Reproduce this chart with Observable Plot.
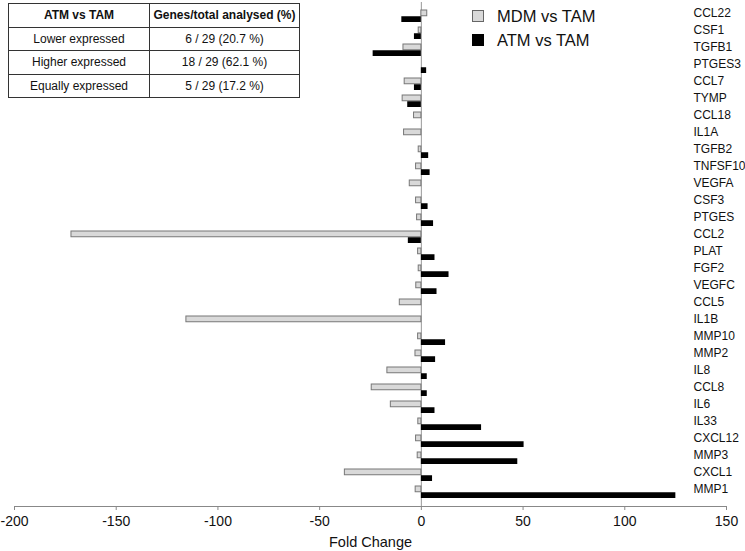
<!DOCTYPE html>
<html>
<head>
<meta charset="utf-8">
<script src="https://cdn.jsdelivr.net/npm/d3@7"></script>
<script src="https://cdn.jsdelivr.net/npm/@observablehq/plot@0.6"></script>
<style>
  body { margin: 0; background: #fff; font-family: "Liberation Sans", Arial, sans-serif; }
  #wrap { position: relative; width: 745px; height: 551px; overflow: hidden; }
  #tbl { position: absolute; left: 8px; top: 3px; border-collapse: collapse; font-size: 12px; color: #111; background: #fff; border: 1.5px solid #222; }
  #tbl td, #tbl th { border: 1px solid #333; height: 22.5px; padding: 0; text-align: center; }
  #tbl th { font-weight: bold; }
  #legend { position: absolute; left: 472px; top: 4px; font-size: 16.5px; color: #111; }
  .li { display: flex; align-items: center; height: 24px; }
  .sw { width: 12px; height: 12px; margin-right: 13px; box-sizing: border-box; }
</style>
</head>
<body>
<div id="wrap"></div>
<script>
// ---- data ----
const genes = ["CCL22","CSF1","TGFB1","PTGES3","CCL7","TYMP","CCL18","IL1A","TGFB2","TNFSF10","VEGFA","CSF3","PTGES","CCL2","PLAT","FGF2","VEGFC","CCL5","IL1B","MMP10","MMP2","IL8","CCL8","IL6","IL33","CXCL12","MMP3","CXCL1","MMP1"];
const mdmVsTam = [2.9,-1.3,-8.8,0,-8.2,-9.2,-3.6,-8.5,-1.3,-2.6,-5.7,-2.6,-2.1,-172,-1.6,-1.3,-2.5,-10.6,-115.5,-1.6,-2.9,-16.7,-24.4,-15,-1.5,-2.6,-1.8,-37.6,-2.8];
const atmVsTam = [-9.6,-3.4,-23.7,2.6,-3.4,-6.7,0,0,3.6,4.3,0,3.3,6.0,-6.4,6.7,13.6,7.7,0,0,11.9,7.0,2.9,2.9,6.7,29.6,50.5,47.4,5.5,125.1];
const seriesNames = ["MDM vs TAM","ATM vs TAM"];
const xTicks = [-200,-150,-100,-50,0,50,100,150];
const xTitle = "Fold Change";
const tableHeader = ["ATM vs TAM","Genes/total analysed (%)"];
const tableRows = [["Lower expressed","6 / 29 (20.7 %)"],["Higher expressed","18 / 29 (62.1 %)"],["Equally expressed","5 / 29 (17.2 %)"]];

const rows = genes.map((g,i) => ({gene: g, mdm: mdmVsTam[i], atm: atmVsTam[i]}));

const chart = Plot.plot({
  width: 745,
  height: 551,
  marginLeft: 14,
  marginRight: 19,
  marginTop: 2,
  marginBottom: 45,
  style: {fontFamily: "'Liberation Sans', Arial, sans-serif", background: "#fff", color: "#111", overflow: "visible"},
  x: {domain: [-200, 150]},
  y: {domain: genes, paddingInner: 0.28, paddingOuter: 0.14, axis: null},
  marks: [
    Plot.ruleX([0], {stroke: "#999", strokeWidth: 1}),
    Plot.barX(rows, {filter: d => d.mdm !== 0, x: "mdm", y: "gene", fill: "#d9d9d9", stroke: "#777", strokeWidth: 1, insetBottom: 6.25}),
    Plot.barX(rows, {filter: d => d.atm !== 0, x: "atm", y: "gene", fill: "#000", insetTop: 6.25}),
    Plot.frame({anchor: "bottom", stroke: "#888"}),
    Plot.axisX({ticks: xTicks, tickFormat: d => String(d), tickSize: 4, tickPadding: 6, fontSize: 14, stroke: "#888", fill: "#111", label: null}),
    Plot.text([xTitle], {frameAnchor: "bottom", text: d => d, dy: 40, fontSize: 14.5, fill: "#111"}),
    Plot.text(genes, {y: d => d, text: d => d, frameAnchor: "right", textAnchor: "start", dx: -33, dy: -3, fontSize: 12, fill: "#111"})
  ]
});
const wrap = document.getElementById("wrap");
wrap.appendChild(chart);

// table overlay
const tbl = document.createElement("table");
tbl.id = "tbl";
const hr = document.createElement("tr");
tableHeader.forEach((h, j) => { const th = document.createElement("th"); th.textContent = h; th.style.width = j === 0 ? "140px" : "149px"; hr.appendChild(th); });
tbl.appendChild(hr);
tableRows.forEach(r => { const tr = document.createElement("tr"); r.forEach(c => { const td = document.createElement("td"); td.textContent = c; tr.appendChild(td); }); tbl.appendChild(tr); });
wrap.appendChild(tbl);

// legend overlay
const legend = document.createElement("div");
legend.id = "legend";
const swatches = [{fill: "#d9d9d9", stroke: "#666"}, {fill: "#000", stroke: "#000"}];
seriesNames.forEach((s, i) => {
  const li = document.createElement("div"); li.className = "li";
  const sw = document.createElement("div"); sw.className = "sw";
  sw.style.background = swatches[i].fill; sw.style.border = "1px solid " + swatches[i].stroke;
  const t = document.createElement("span"); t.textContent = s;
  li.appendChild(sw); li.appendChild(t); legend.appendChild(li);
});
wrap.appendChild(legend);
</script>
</body>
</html>
